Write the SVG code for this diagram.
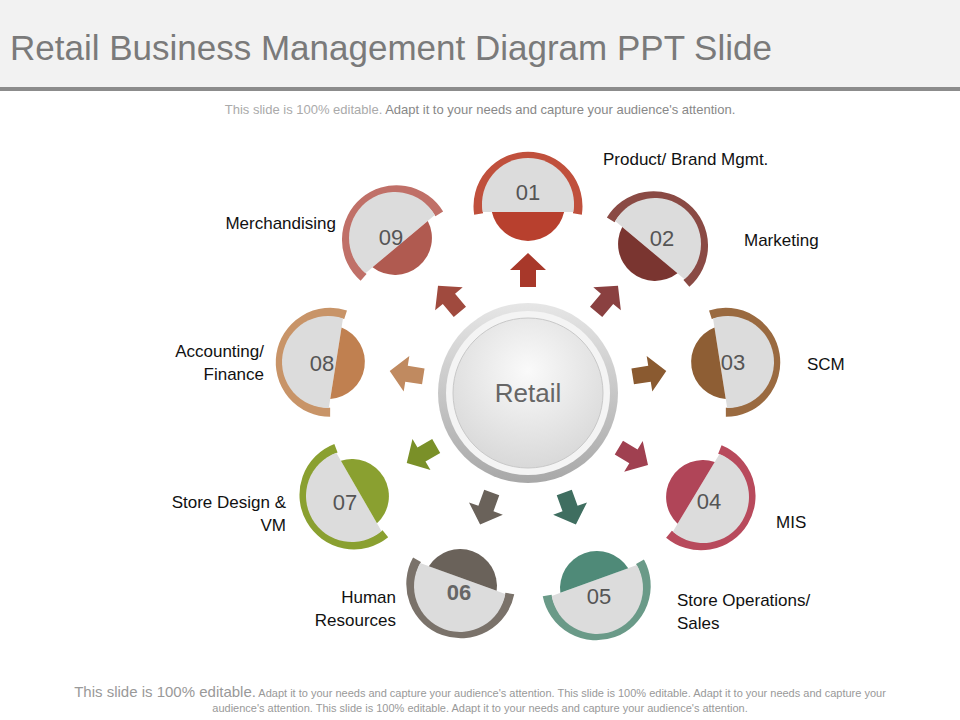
<svg xmlns="http://www.w3.org/2000/svg" width="960" height="720" viewBox="0 0 960 720">
<style>
.lbl{font-family:"Liberation Sans",Arial,sans-serif;font-size:17px;fill:#111}
.num{font-family:"Liberation Sans",Arial,sans-serif;font-size:22px;fill:#555;text-anchor:middle}
.gray{fill:#dcdcdc}
</style>
<defs>
<radialGradient id="rg" cx="50%" cy="35%" r="70%"><stop offset="0" stop-color="#fafafa"/><stop offset="1" stop-color="#d6d6d6"/></radialGradient>
<linearGradient id="rr" x1="0" y1="0" x2="0" y2="1"><stop offset="0" stop-color="#e6e6e6"/><stop offset="1" stop-color="#a8a8a8"/></linearGradient>
<g id="ring"><path d="M-49.4 10 A50 50 0 1 1 49.4 10" fill="none" stroke-width="9"/></g>
</defs>
<rect width="960" height="88" fill="#f2f2f2"/>
<rect y="87" width="960" height="4" fill="#8c8c8c"/>
<text x="10" y="60" font-family="Liberation Sans,Arial,sans-serif" font-size="35" fill="#7a7a7a">Retail Business Management Diagram PPT Slide</text>
<text x="480" y="114" text-anchor="middle" font-family="Liberation Sans,Arial,sans-serif" font-size="13" fill="#aaa">This slide is 100% editable. <tspan fill="#888">Adapt it to your needs and capture your audience's attention.</tspan></text>

<g id="connectors">
<g transform="translate(528,393)">
<path transform="rotate(0) translate(0,-123)" d="M0 -17 L18 0 L8 0 L8 17 L-8 17 L-8 0 L-18 0 Z" fill="#a8382a"/>
<path transform="rotate(40) translate(0,-123)" d="M0 -17 L18 0 L8 0 L8 17 L-8 17 L-8 0 L-18 0 Z" fill="#8a4040"/>
<path transform="rotate(81) translate(0,-123)" d="M0 -17 L18 0 L8 0 L8 17 L-8 17 L-8 0 L-18 0 Z" fill="#8a5a30"/>
<path transform="rotate(121) translate(0,-123)" d="M0 -17 L18 0 L8 0 L8 17 L-8 17 L-8 0 L-18 0 Z" fill="#a04050"/>
<path transform="rotate(160) translate(0,-123)" d="M0 -17 L18 0 L8 0 L8 17 L-8 17 L-8 0 L-18 0 Z" fill="#3f6e60"/>
<path transform="rotate(200) translate(0,-123)" d="M0 -17 L18 0 L8 0 L8 17 L-8 17 L-8 0 L-18 0 Z" fill="#6a625a"/>
<path transform="rotate(240) translate(0,-123)" d="M0 -17 L18 0 L8 0 L8 17 L-8 17 L-8 0 L-18 0 Z" fill="#7a9028"/>
<path transform="rotate(279) translate(0,-123)" d="M0 -17 L18 0 L8 0 L8 17 L-8 17 L-8 0 L-18 0 Z" fill="#c08a60"/>
<path transform="rotate(320) translate(0,-123)" d="M0 -17 L18 0 L8 0 L8 17 L-8 17 L-8 0 L-18 0 Z" fill="#a04a3e"/>
</g>
</g>

<g id="center">
<circle cx="528" cy="393" r="90" fill="url(#rr)"/>
<circle cx="528" cy="393" r="82" fill="#f4f4f4"/>
<circle cx="528" cy="393" r="75" fill="url(#rg)" stroke="#c8c8c8"/>
<text x="528" y="402" text-anchor="middle" font-family="Liberation Sans,Arial,sans-serif" font-size="26" fill="#666">Retail</text>
</g>

<g id="n01"><g transform="translate(528,204) rotate(0)"><use href="#ring" stroke="#c0503c"/><path d="M-45.3 8 A46 46 0 1 1 45.3 8 Z" class="gray"/><path d="M-36.1 8 A37 37 0 0 0 36.1 8 Z" fill="#b8402e"/></g><text class="num" x="528" y="200">01</text></g>
<g id="n02"><g transform="translate(655,244) rotate(40)"><use href="#ring" stroke="#8a4a44"/><path d="M-45.3 8 A46 46 0 1 1 45.3 8 Z" class="gray"/><path d="M-36.1 8 A37 37 0 0 0 36.1 8 Z" fill="#7a3530"/></g><text class="num" x="662" y="246">02</text></g>
<g id="n03"><g transform="translate(728,362) rotate(81)"><use href="#ring" stroke="#9a6a40"/><path d="M-45.3 8 A46 46 0 1 1 45.3 8 Z" class="gray"/><path d="M-36.1 8 A37 37 0 0 0 36.1 8 Z" fill="#8e5e34"/></g><text class="num" x="733" y="370">03</text></g>
<g id="n04"><g transform="translate(703,497) rotate(121)"><use href="#ring" stroke="#b84a5c"/><path d="M-45.3 8 A46 46 0 1 1 45.3 8 Z" class="gray"/><path d="M-36.1 8 A37 37 0 0 0 36.1 8 Z" fill="#b04558"/></g><text class="num" x="709" y="509">04</text></g>
<g id="n05"><g transform="translate(597,588) rotate(160)"><use href="#ring" stroke="#6a9a88"/><path d="M-45.3 8 A46 46 0 1 1 45.3 8 Z" class="gray"/><path d="M-36.1 8 A37 37 0 0 0 36.1 8 Z" fill="#4f8a78"/></g><text class="num" x="599" y="604">05</text></g>
<g id="n06"><g transform="translate(460,586) rotate(200)"><use href="#ring" stroke="#7a726a"/><path d="M-45.3 8 A46 46 0 1 1 45.3 8 Z" class="gray"/><path d="M-36.1 8 A37 37 0 0 0 36.1 8 Z" fill="#6a625a"/></g><text class="num" x="459" y="600" font-weight="bold" style="fill:#666">06</text></g>
<g id="n07"><g transform="translate(352,496) rotate(240)"><use href="#ring" stroke="#8aa030"/><path d="M-45.3 8 A46 46 0 1 1 45.3 8 Z" class="gray"/><path d="M-36.1 8 A37 37 0 0 0 36.1 8 Z" fill="#8aa030"/></g><text class="num" x="345" y="510">07</text></g>
<g id="n08"><g transform="translate(328,362) rotate(279)"><use href="#ring" stroke="#c89468"/><path d="M-45.3 8 A46 46 0 1 1 45.3 8 Z" class="gray"/><path d="M-36.1 8 A37 37 0 0 0 36.1 8 Z" fill="#c08050"/></g><text class="num" x="322" y="371">08</text></g>
<g id="n09"><g transform="translate(395,238) rotate(320)"><use href="#ring" stroke="#c07068"/><path d="M-45.3 8 A46 46 0 1 1 45.3 8 Z" class="gray"/><path d="M-36.1 8 A37 37 0 0 0 36.1 8 Z" fill="#b05a50"/></g><text class="num" x="391" y="245">09</text></g>

<text class="lbl" x="603" y="165">Product/ Brand Mgmt.</text>
<text class="lbl" x="744" y="246">Marketing</text>
<text class="lbl" x="807" y="370">SCM</text>
<text class="lbl" x="776" y="528">MIS</text>
<text class="lbl" x="677" y="606">Store Operations/</text>
<text class="lbl" x="677" y="629">Sales</text>
<text class="lbl" x="396" y="603" text-anchor="end">Human</text>
<text class="lbl" x="396" y="626" text-anchor="end">Resources</text>
<text class="lbl" x="286" y="508" text-anchor="end">Store Design &amp;</text>
<text class="lbl" x="286" y="531" text-anchor="end">VM</text>
<text class="lbl" x="264" y="357" text-anchor="end">Accounting/</text>
<text class="lbl" x="264" y="380" text-anchor="end">Finance</text>
<text class="lbl" x="336" y="229" text-anchor="end">Merchandising</text>

<text x="480" y="697" text-anchor="middle" font-family="Liberation Sans,Arial,sans-serif" font-size="11" fill="#999"><tspan font-size="15">This slide is 100% editable.</tspan> Adapt it to your needs and capture your audience's attention. This slide is 100% editable. Adapt it to your needs and capture your</text>
<text x="480" y="712" text-anchor="middle" font-family="Liberation Sans,Arial,sans-serif" font-size="11" fill="#999">audience's attention. This slide is 100% editable. Adapt it to your needs and capture your audience's attention.</text>
</svg>
